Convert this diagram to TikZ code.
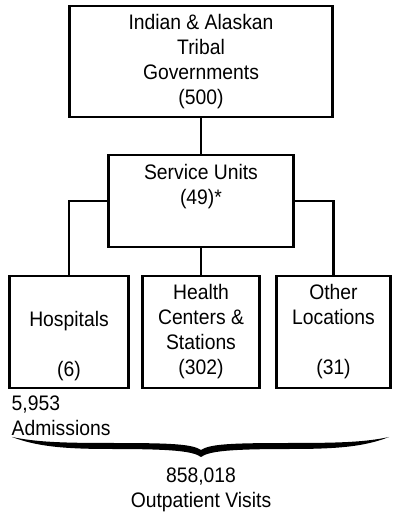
\documentclass[tikz,border=0pt]{standalone}
\usepackage{fontspec}
\setmainfont[FakeStretch=0.92]{Liberation Sans}
\usetikzlibrary{positioning,calc}
\tikzset{
  orgblk/.style={draw,rectangle,line width=2.6pt,outer sep=0pt,inner sep=0pt,align=center,font=\fontsize{21}{25}\selectfont},
  topblk/.style={orgblk,minimum width=263pt,minimum height=111pt},
  unitblk/.style={orgblk,minimum width=185pt,minimum height=92pt},
  facblk/.style={orgblk,minimum width=117pt,minimum height=112pt},
  conn/.style={line width=2.6pt},
  lbl/.style={inner sep=0pt,font=\fontsize{21}{25}\selectfont}
}

\begin{document}
\begin{tikzpicture}[node distance=38pt and 14pt]
  \useasboundingbox (0,0) rectangle (393pt,518pt);
  \node[topblk] (tribes) at (201pt,456.5pt) {Indian \& Alaskan\\Tribal\\Governments\\(500)};
  \node[unitblk, below=of tribes] (units) {Service Units\\(49)*\\\strut};
  \node[facblk, below=29pt of units] (health) {Health\\Centers \&\\Stations\\(302)};
  \node[facblk, left=of health, minimum width=119pt] (hosp) {\strut\\Hospitals\\\strut\\(6)};
  \node[facblk, right=17pt of health, minimum width=114pt] (other) {Other\\Locations\\\strut\\(31)};

  \draw[conn] (tribes) -- (units);
  \draw[conn] (units.west) -| (hosp.north);
  \draw[conn] (units.east) -| (other.north);
  \draw[conn] (units) -- (health);

  % totals under the facilities
  \node[lbl, align=left, anchor=north west] (adm) at ($(hosp.south west)+(2pt,-8pt)$) {5,953\\Admissions};
  \coordinate (tip) at ($(health.south)+(0,-69pt)$);
  \fill[shift={(tip)}, x=1pt, y=1pt]
    (-189,20) .. controls (-165,15) and (-140,14) .. (-90,14)
    .. controls (-30,14) and (-9,13) .. (0,7)
    .. controls (9,13) and (30,14) .. (90,14)
    .. controls (140,14) and (165,15) .. (188,20)
    .. controls (165,11) and (140,8) .. (90,8)
    .. controls (30,8) and (8,6) .. (0,0)
    .. controls (-8,6) and (-30,8) .. (-90,8)
    .. controls (-140,8) and (-165,11) .. (-189,20) -- cycle;
  \node[lbl, align=center, below=11pt of tip] (visits) {858,018\\Outpatient Visits};
\end{tikzpicture}
\end{document}
